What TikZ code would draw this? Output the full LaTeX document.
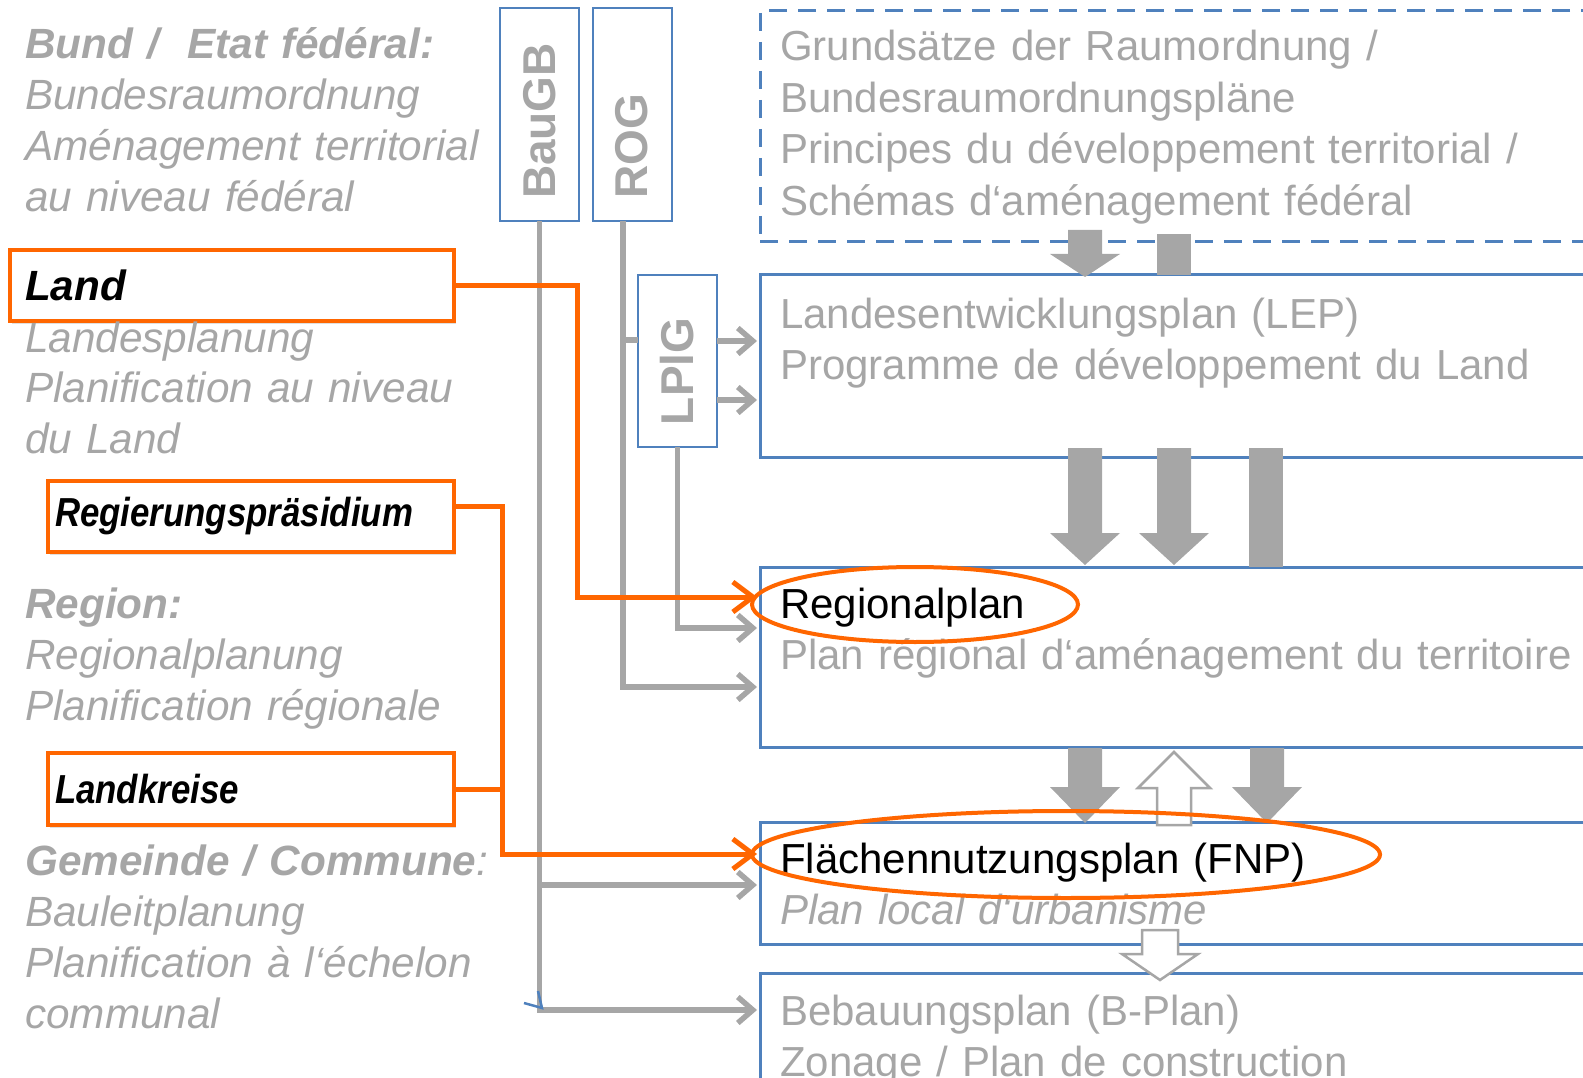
\documentclass[tikz,border=0pt]{standalone}
\usepackage{fontspec}
\setmainfont{Liberation Sans}
\newfontfamily\narrowfont{Liberation Sans}[FakeStretch=0.86]
\usetikzlibrary{positioning, arrows.meta, shapes.geometric, shadows}
\definecolor{txtgray}{HTML}{A6A6A6}
\definecolor{planblue}{HTML}{4F81BD}
\definecolor{hlorange}{HTML}{FF6600}
\tikzset{
    lawbox/.style={draw=planblue, line width=2pt, rotate=90, outer sep=0pt,
        inner xsep=22pt, inner ysep=0pt, minimum height=79pt, align=left,
        text=txtgray, font=\fontsize{46}{50}\selectfont\bfseries},
    planbox/.style={draw=planblue, line width=3pt, anchor=north west,
        outer sep=0pt, inner sep=0pt, minimum width=1000pt},
    orgbox/.style={draw=hlorange, line width=4pt, fill=white, anchor=north west,
        outer sep=0pt, inner ysep=0pt, align=left, text=black,
        drop shadow={opacity=0.25, shadow xshift=2pt, shadow yshift=-3pt}},
    plantext/.style={anchor=base west, inner sep=0pt, text width=850pt,
        align=left, text=txtgray, font=\fontsize{42}{51.5}\selectfont},
    lefttext/.style={anchor=base west, inner sep=0pt, text width=540pt,
        align=left, text=txtgray, font=\fontsize{42.3}{51}\selectfont\itshape},
    ring/.style={draw=hlorange, line width=4pt, ellipse, inner sep=0pt},
    glink/.style={draw=txtgray, line width=5.5pt},
    garrow/.style={glink, -{Straight Barb[length=15pt, width=26pt]}},
    olink/.style={draw=hlorange, line width=5pt},
    oarrow/.style={olink, -{Straight Barb[length=20pt, width=30pt]}},
    blockfill/.style={fill=txtgray},
    hollow/.style={draw=txtgray, line width=2.5pt, fill=white}
}

\begin{document}
\begin{tikzpicture}[x=1pt, y=-1pt]
    \useasboundingbox (0,0) rectangle (1583,1078);

    % plan levels
    \node[planbox, dash pattern=on 18pt off 11pt, minimum height=231pt] (fedplan) at (760,11) {};
    \node[planbox, minimum height=182pt] (lep) at (760,275) {};
    \node[planbox, minimum height=180pt] (regplan) at (760,567) {};
    \node[planbox, minimum height=122pt] (fnp) at (760,822) {};
    \node[planbox, minimum height=200pt] (bplan) at (760,973) {};

    % laws
    \node[lawbox, text width=169pt] (baugb) at (539.5,114.5) {BauGB};
    \node[lawbox, text width=169pt] (rog) at (632,114.5) {ROG};
    \node[lawbox, text width=128pt] (lplg) at (677.5,361) {LPlG};

    % block arrows
    \fill[blockfill] (1068,230) -- (1102,230) -- (1102,254) -- (1120,254) -- (1085,277) -- (1050,254) -- (1068,254) -- cycle;
    \fill[blockfill] (1157,234) rectangle (1191,275);
    \foreach \cx in {1085,1174}
        \fill[blockfill] (\cx-17,448) -- (\cx+17,448) -- (\cx+17,533) -- (\cx+35,533) -- (\cx,565) -- (\cx-35,533) -- (\cx-17,533) -- cycle;
    \fill[blockfill] (1249,448) rectangle (1283,567);
    \foreach \cx in {1085,1267}
        \fill[blockfill] (\cx-17,748) -- (\cx+17,748) -- (\cx+17,787) -- (\cx+35,787) -- (\cx,823) -- (\cx-35,787) -- (\cx-17,787) -- cycle;
    \draw[hollow] (1157,825) -- (1191,825) -- (1191,788) -- (1210,788) -- (1174,752) -- (1138,788) -- (1157,788) -- cycle;
    \draw[hollow] (1142,930) -- (1178,930) -- (1178,954) -- (1198,954) -- (1160,980) -- (1122,954) -- (1142,954) -- cycle;

    \coordinate (rogfoot) at (623,221);
    \coordinate (lplgin) at (638,340);
    \coordinate (lepin1) at (757,341);
    \coordinate (lepin2) at (757,400);
    \coordinate (regin1) at (757,597);
    \coordinate (regin2) at (757,628);
    \coordinate (regin3) at (757,687);
    \coordinate (fnpin1) at (757,854);
    \coordinate (fnpin2) at (757,885);
    \coordinate (bplanin) at (757,1010);

    \draw[garrow] (baugb.west) |- (bplanin);
    \draw[garrow] (baugb.west |- fnpin2) -- (fnpin2);
    \draw[glink] (rogfoot |- lplgin) -- (lplgin);
    \draw[garrow] (rogfoot) |- (regin3);
    \draw[garrow] (lplg.south |- lepin1) -- (lepin1);
    \draw[garrow] (lplg.south |- lepin2) -- (lepin2);
    \draw[garrow] (lplg.west) |- (regin2);
    \draw[planblue, line width=2.5pt] (524,1003) -- (542,1008) -- (538,991);

    % authorities
    \node[orgbox, text width=414pt, inner xsep=15pt, minimum height=71pt,
        font=\fontsize{42.3}{50}\selectfont\bfseries\itshape] (land) at (10,250) {Land};
    \node[orgbox, text width=392pt, inner xsep=7pt, minimum height=71pt,
        font=\fontsize{40.5}{48}\selectfont\narrowfont\bfseries\itshape] (regp) at (48,481) {Regierungspräsidium};
    \node[orgbox, text width=392pt, inner xsep=7pt, minimum height=72pt,
        font=\fontsize{40.5}{48}\selectfont\narrowfont\bfseries\itshape] (lkr) at (48,753) {Landkreise};

    \draw[oarrow] (land.east) -- ++(123,0) |- (regin1);
    \draw[oarrow] ([yshift=10pt]regp.east) -- ++(48,0) coordinate (obend) |- (fnpin1);
    \draw[olink] (lkr.east) -- (lkr.east -| obend);

    % levels
    \node[lefttext] (fedlevel) at (25,59) {{\bfseries Bund /\ \ Etat fédéral:}\\Bundesraumordnung\\Aménagement territorial\\au niveau fédéral};
    \node[lefttext] (landlevel) at (25,352) {Landesplanung\\Planification au niveau\\du Land};
    \node[lefttext] (reglevel) at (25,618) {{\bfseries Region:}\\Regionalplanung\\Planification régionale};
    \node[lefttext] (comlevel) at (25,875) {{\bfseries Gemeinde / Commune}:\\Bauleitplanung\\Planification à l‘échelon\\communal};

    \node[plantext] (fedtxt) at (780,61) {Grundsätze der Raumordnung /\\Bundesraumordnungspläne\\Principes du développement territorial /\\Schémas d‘aménagement fédéral};
    \node[plantext] (leptxt) at (780,328) {Landesentwicklungsplan (LEP)\\Programme de développement du Land};
    \node[plantext] (regtxt) at (780,618) {{\color{black}Regionalplan}\\Plan régional d‘aménagement du territoire};
    \node[plantext] (fnptxt) at (780,873) {{\color{black}Flächennutzungsplan (FNP)}\\\textit{Plan local d‘urbanisme}};
    \node[plantext] (bplantxt) at (780,1025) {Bebauungsplan (B-Plan)\\Zonage / Plan de construction};

    \node[ring, minimum width=326pt, minimum height=75pt] (regring) at (915,604.5) {};
    \node[ring, minimum width=628pt, minimum height=87pt] (fnpring) at (1066,854.5) {};
\end{tikzpicture}
\end{document}
